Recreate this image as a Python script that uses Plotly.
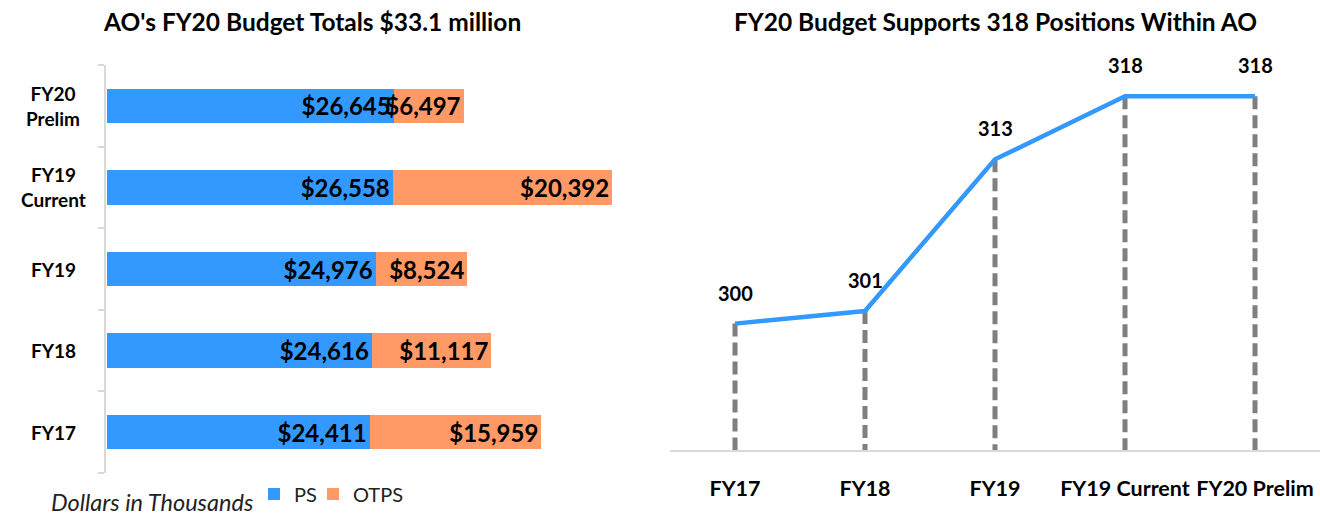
import plotly.graph_objects as go

# ---- data ----
budget_cats = ["FY17", "FY18", "FY19", "FY19 Current", "FY20 Prelim"]
budget_labels = ["FY17", "FY18", "FY19", "FY19<br>Current", "FY20<br>Prelim"]
ps_values = [24411, 24616, 24976, 26558, 26645]
otps_values = [15959, 11117, 8524, 20392, 6497]

pos_cats = ["FY17", "FY18", "FY19", "FY19 Current", "FY20 Prelim"]
pos_values = [300, 301, 313, 318, 318]

W, H = 1320, 517
FONT = "Lato"
BLUE = "#3399FF"
ORANGE = "#FF9966"
GRID = "#D9D9D9"


def px(x):
    return x / W


def py(y):
    return 1 - y / H


fig = go.Figure()

bar_font = dict(family=FONT, size=24, color="black", weight="bold")
fig.add_trace(go.Bar(
    y=budget_cats, x=ps_values, name="PS", orientation="h",
    marker=dict(color=BLUE, line=dict(width=0)),
    text=[f"${v:,}" for v in ps_values], textposition="inside",
    insidetextanchor="end", constraintext="none", textfont=bar_font,
    width=0.42, xaxis="x", yaxis="y", hoverinfo="skip", legend="legend"))
fig.add_trace(go.Bar(
    y=budget_cats, x=otps_values, name="OTPS", orientation="h",
    marker=dict(color=ORANGE, line=dict(width=0)),
    text=[f"${v:,}" for v in otps_values], textposition="inside",
    insidetextanchor="end", constraintext="none", textfont=bar_font,
    width=0.42, xaxis="x", yaxis="y", hoverinfo="skip", legend="legend2"))

# dashed drop lines
dx, dy = [], []
for c, v in zip(pos_cats, pos_values):
    dx += [c, c, None]
    dy += [v, 290, None]
fig.add_trace(go.Scatter(
    x=dx, y=dy, mode="lines", showlegend=False,
    line=dict(color="#7F7F7F", width=5, dash="13px,6px"),
    xaxis="x2", yaxis="y2", hoverinfo="skip"))
fig.add_trace(go.Scatter(
    x=pos_cats, y=pos_values, mode="lines", showlegend=False,
    line=dict(color=BLUE, width=4.5),
    xaxis="x2", yaxis="y2", hoverinfo="skip"))

annotations = []
for c, v in zip(pos_cats, pos_values):
    annotations.append(dict(
        x=c, y=v, xref="x2", yref="y2", text=str(v), showarrow=False,
        xanchor="center", yanchor="middle", yshift=31,
        font=dict(family=FONT, size=20, color="black", weight="bold")))

for c, lab in zip(budget_cats, budget_labels):
    annotations.append(dict(
        x=px(53), y=c, xref="paper", yref="y", text=lab, showarrow=False,
        align="center", xanchor="center", yanchor="middle",
        font=dict(family=FONT, size=19, color="black", weight="bold")))

annotations += [
    dict(x=px(312), y=py(22), xref="paper", yref="paper", showarrow=False,
         xanchor="center", yanchor="middle",
         text="AO's FY20 Budget Totals $33.1 million",
         font=dict(family=FONT, size=24.5, color="black", weight="bold")),
    dict(x=px(995), y=py(22), xref="paper", yref="paper", showarrow=False,
         xanchor="center", yanchor="middle",
         text="FY20 Budget Supports 318 Positions Within AO",
         font=dict(family=FONT, size=24.5, color="black", weight="bold")),
    dict(x=px(49), y=py(502), xref="paper", yref="paper", showarrow=False,
         xanchor="left", yanchor="middle", text="<i>Dollars in Thousands</i>",
         font=dict(family=FONT, size=23.5, color="#222222")),
]

legend_common = dict(orientation="h", y=py(494), xanchor="left",
                     yanchor="middle", font=dict(family=FONT, size=20, color="#222222"),
                     bgcolor="rgba(0,0,0,0)", itemwidth=30)

fig.update_layout(
    width=W, height=H, margin=dict(l=0, r=0, t=0, b=0),
    paper_bgcolor="white", plot_bgcolor="white",
    barmode="stack", showlegend=True,
    uniformtext=dict(minsize=24, mode="show"),
    font=dict(family=FONT, color="black"),
    legend=dict(x=px(254), **legend_common),
    legend2=dict(x=px(313), **legend_common),
    xaxis=dict(domain=[px(107), px(645)], range=[0, 50000], visible=False,
               fixedrange=True),
    yaxis=dict(domain=[py(473), py(65)], categoryorder="array",
               categoryarray=budget_cats, range=[-0.5, 4.5],
               showticklabels=False, showline=True, linecolor=GRID, linewidth=2,
               ticks="outside", tickson="boundaries", ticklen=6,
               tickcolor=GRID, tickwidth=2, showgrid=False, zeroline=False,
               anchor="free", position=px(105)),
    xaxis2=dict(domain=[px(670), 1.0], anchor="y2", categoryorder="array",
                categoryarray=pos_cats, range=[-0.5, 4.5],
                showline=True, linecolor=GRID, linewidth=2, showgrid=False,
                ticks="", ticklabelstandoff=18,
                tickfont=dict(family=FONT, size=21.5, color="black", weight="bold")),
    yaxis2=dict(domain=[py(450), py(45.6)], range=[290, 322], visible=False,
                anchor="x2"),
    annotations=annotations,
)

fig.write_html("out.html", config={"displayModeBar": False},
               post_script="document.body.style.margin='0';document.body.style.padding='0';")
